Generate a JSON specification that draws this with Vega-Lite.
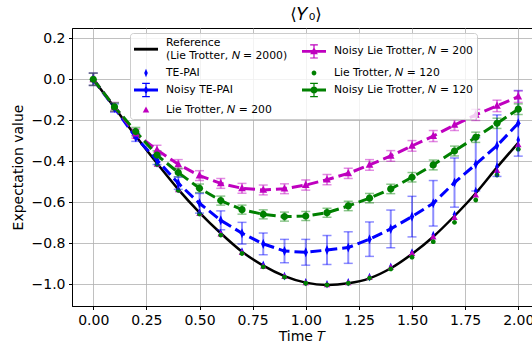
{
  "$schema": "https://vega.github.io/schema/vega-lite/v6.json",
  "width": 460,
  "height": 278,
  "autosize": {"type": "none"},
  "padding": {"left": 72, "top": 28, "right": 0, "bottom": 38},
  "title": {"text": "⟨𝑌₀⟩", "fontSize": 16.5, "font": "DejaVu Sans", "fontWeight": "normal", "anchor": "middle", "dx": 4, "offset": 5, "color": "black"},
  "config": {
    "font": "DejaVu Sans",
    "view": {"stroke": "black", "strokeWidth": 1},
    "axis": {
      "domainColor": "black", "domainWidth": 1, "tickColor": "black", "tickSize": 3.5, "tickWidth": 1,
      "labelFont": "DejaVu Sans", "labelFontSize": 14, "labelColor": "black", "labelPadding": 3.5,
      "titleFont": "DejaVu Sans", "titleFontSize": 14, "titleFontWeight": "normal", "titleColor": "black",
      "gridColor": "#b0b0b0", "gridWidth": 0.8, "gridOpacity": 1
    },
    "legend": {
      "labelFont": "DejaVu Sans", "labelFontSize": 10.8, "labelColor": "black", "labelLimit": 0,
      "fillColor": "rgba(255,255,255,0.8)", "strokeColor": "#cccccc", "cornerRadius": 3, "padding": 4,
      "rowPadding": -3.5, "columnPadding": 14, "labelOffset": 8, "symbolStrokeWidth": 0
    }
  },
  "datasets": {
    "ref": [
      {"series": "Reference", "t": 0, "y": 0},
      {"series": "Reference", "t": 0.1, "y": -0.138},
      {"series": "Reference", "t": 0.2, "y": -0.277},
      {"series": "Reference", "t": 0.3, "y": -0.41},
      {"series": "Reference", "t": 0.4, "y": -0.537},
      {"series": "Reference", "t": 0.5, "y": -0.65},
      {"series": "Reference", "t": 0.6, "y": -0.751},
      {"series": "Reference", "t": 0.7, "y": -0.841},
      {"series": "Reference", "t": 0.8, "y": -0.909},
      {"series": "Reference", "t": 0.9, "y": -0.96},
      {"series": "Reference", "t": 1.0, "y": -0.992},
      {"series": "Reference", "t": 1.1, "y": -1.003},
      {"series": "Reference", "t": 1.2, "y": -0.995},
      {"series": "Reference", "t": 1.3, "y": -0.971},
      {"series": "Reference", "t": 1.4, "y": -0.922},
      {"series": "Reference", "t": 1.5, "y": -0.852},
      {"series": "Reference", "t": 1.6, "y": -0.768},
      {"series": "Reference", "t": 1.7, "y": -0.667},
      {"series": "Reference", "t": 1.8, "y": -0.556},
      {"series": "Reference", "t": 1.9, "y": -0.43},
      {"series": "Reference", "t": 2.0, "y": -0.31}
    ],
    "exact": [
      {"series": "TE-PAI", "t": 0, "y": 0},
      {"series": "TE-PAI", "t": 0.1, "y": -0.14},
      {"series": "TE-PAI", "t": 0.2, "y": -0.28},
      {"series": "TE-PAI", "t": 0.3, "y": -0.41},
      {"series": "TE-PAI", "t": 0.4, "y": -0.535},
      {"series": "TE-PAI", "t": 0.5, "y": -0.65},
      {"series": "TE-PAI", "t": 0.6, "y": -0.75},
      {"series": "TE-PAI", "t": 0.7, "y": -0.84},
      {"series": "TE-PAI", "t": 0.8, "y": -0.905},
      {"series": "TE-PAI", "t": 0.9, "y": -0.96},
      {"series": "TE-PAI", "t": 1.0, "y": -0.99},
      {"series": "TE-PAI", "t": 1.1, "y": -1.0},
      {"series": "TE-PAI", "t": 1.2, "y": -0.99},
      {"series": "TE-PAI", "t": 1.3, "y": -0.965},
      {"series": "TE-PAI", "t": 1.4, "y": -0.915},
      {"series": "TE-PAI", "t": 1.5, "y": -0.845},
      {"series": "TE-PAI", "t": 1.6, "y": -0.76},
      {"series": "TE-PAI", "t": 1.7, "y": -0.66},
      {"series": "TE-PAI", "t": 1.8, "y": -0.545},
      {"series": "TE-PAI", "t": 1.9, "y": -0.425},
      {"series": "TE-PAI", "t": 2.0, "y": -0.296},
      {"series": "Lie Trotter, 𝑁 = 200", "t": 0, "y": 0},
      {"series": "Lie Trotter, 𝑁 = 200", "t": 0.1, "y": -0.14},
      {"series": "Lie Trotter, 𝑁 = 200", "t": 0.2, "y": -0.28},
      {"series": "Lie Trotter, 𝑁 = 200", "t": 0.3, "y": -0.415},
      {"series": "Lie Trotter, 𝑁 = 200", "t": 0.4, "y": -0.54},
      {"series": "Lie Trotter, 𝑁 = 200", "t": 0.5, "y": -0.655},
      {"series": "Lie Trotter, 𝑁 = 200", "t": 0.6, "y": -0.755},
      {"series": "Lie Trotter, 𝑁 = 200", "t": 0.7, "y": -0.845},
      {"series": "Lie Trotter, 𝑁 = 200", "t": 0.8, "y": -0.912},
      {"series": "Lie Trotter, 𝑁 = 200", "t": 0.9, "y": -0.963},
      {"series": "Lie Trotter, 𝑁 = 200", "t": 1.0, "y": -0.993},
      {"series": "Lie Trotter, 𝑁 = 200", "t": 1.1, "y": -1.003},
      {"series": "Lie Trotter, 𝑁 = 200", "t": 1.2, "y": -0.993},
      {"series": "Lie Trotter, 𝑁 = 200", "t": 1.3, "y": -0.967},
      {"series": "Lie Trotter, 𝑁 = 200", "t": 1.4, "y": -0.918},
      {"series": "Lie Trotter, 𝑁 = 200", "t": 1.5, "y": -0.85},
      {"series": "Lie Trotter, 𝑁 = 200", "t": 1.6, "y": -0.77},
      {"series": "Lie Trotter, 𝑁 = 200", "t": 1.7, "y": -0.675},
      {"series": "Lie Trotter, 𝑁 = 200", "t": 1.8, "y": -0.565},
      {"series": "Lie Trotter, 𝑁 = 200", "t": 1.9, "y": -0.445},
      {"series": "Lie Trotter, 𝑁 = 200", "t": 2.0, "y": -0.32},
      {"series": "Lie Trotter, 𝑁 = 120", "t": 0, "y": 0},
      {"series": "Lie Trotter, 𝑁 = 120", "t": 0.1, "y": -0.14},
      {"series": "Lie Trotter, 𝑁 = 120", "t": 0.2, "y": -0.28},
      {"series": "Lie Trotter, 𝑁 = 120", "t": 0.3, "y": -0.415},
      {"series": "Lie Trotter, 𝑁 = 120", "t": 0.4, "y": -0.542},
      {"series": "Lie Trotter, 𝑁 = 120", "t": 0.5, "y": -0.657},
      {"series": "Lie Trotter, 𝑁 = 120", "t": 0.6, "y": -0.76},
      {"series": "Lie Trotter, 𝑁 = 120", "t": 0.7, "y": -0.85},
      {"series": "Lie Trotter, 𝑁 = 120", "t": 0.8, "y": -0.915},
      {"series": "Lie Trotter, 𝑁 = 120", "t": 0.9, "y": -0.965},
      {"series": "Lie Trotter, 𝑁 = 120", "t": 1.0, "y": -0.995},
      {"series": "Lie Trotter, 𝑁 = 120", "t": 1.1, "y": -1.003},
      {"series": "Lie Trotter, 𝑁 = 120", "t": 1.2, "y": -0.995},
      {"series": "Lie Trotter, 𝑁 = 120", "t": 1.3, "y": -0.97},
      {"series": "Lie Trotter, 𝑁 = 120", "t": 1.4, "y": -0.925},
      {"series": "Lie Trotter, 𝑁 = 120", "t": 1.5, "y": -0.868},
      {"series": "Lie Trotter, 𝑁 = 120", "t": 1.6, "y": -0.792},
      {"series": "Lie Trotter, 𝑁 = 120", "t": 1.7, "y": -0.698},
      {"series": "Lie Trotter, 𝑁 = 120", "t": 1.8, "y": -0.589},
      {"series": "Lie Trotter, 𝑁 = 120", "t": 1.9, "y": -0.467},
      {"series": "Lie Trotter, 𝑁 = 120", "t": 2.0, "y": -0.341}
    ],
    "noisy": [
      {"series": "Noisy TE-PAI", "t": 0, "y": 0, "lo": -0.03, "hi": 0.03},
      {"series": "Noisy TE-PAI", "t": 0.1, "y": -0.14, "lo": -0.16, "hi": -0.12},
      {"series": "Noisy TE-PAI", "t": 0.2, "y": -0.283, "lo": -0.303, "hi": -0.263},
      {"series": "Noisy TE-PAI", "t": 0.3, "y": -0.394, "lo": -0.416, "hi": -0.372},
      {"series": "Noisy TE-PAI", "t": 0.4, "y": -0.507, "lo": -0.537, "hi": -0.477},
      {"series": "Noisy TE-PAI", "t": 0.5, "y": -0.605, "lo": -0.653, "hi": -0.557},
      {"series": "Noisy TE-PAI", "t": 0.6, "y": -0.688, "lo": -0.734, "hi": -0.642},
      {"series": "Noisy TE-PAI", "t": 0.7, "y": -0.751, "lo": -0.804, "hi": -0.698},
      {"series": "Noisy TE-PAI", "t": 0.8, "y": -0.803, "lo": -0.856, "hi": -0.75},
      {"series": "Noisy TE-PAI", "t": 0.9, "y": -0.838, "lo": -0.895, "hi": -0.781},
      {"series": "Noisy TE-PAI", "t": 1.0, "y": -0.844, "lo": -0.907, "hi": -0.781},
      {"series": "Noisy TE-PAI", "t": 1.1, "y": -0.833, "lo": -0.904, "hi": -0.762},
      {"series": "Noisy TE-PAI", "t": 1.2, "y": -0.821, "lo": -0.898, "hi": -0.744},
      {"series": "Noisy TE-PAI", "t": 1.3, "y": -0.78, "lo": -0.864, "hi": -0.696},
      {"series": "Noisy TE-PAI", "t": 1.4, "y": -0.73, "lo": -0.822, "hi": -0.638},
      {"series": "Noisy TE-PAI", "t": 1.5, "y": -0.67, "lo": -0.769, "hi": -0.571},
      {"series": "Noisy TE-PAI", "t": 1.6, "y": -0.605, "lo": -0.716, "hi": -0.494},
      {"series": "Noisy TE-PAI", "t": 1.7, "y": -0.504, "lo": -0.624, "hi": -0.384},
      {"series": "Noisy TE-PAI", "t": 1.8, "y": -0.415, "lo": -0.545, "hi": -0.285},
      {"series": "Noisy TE-PAI", "t": 1.9, "y": -0.324, "lo": -0.474, "hi": -0.174},
      {"series": "Noisy TE-PAI", "t": 2.0, "y": -0.215, "lo": -0.375, "hi": -0.055},
      {"series": "Noisy Lie Trotter, 𝑁 = 200", "t": 0, "y": 0, "lo": -0.03, "hi": 0.03},
      {"series": "Noisy Lie Trotter, 𝑁 = 200", "t": 0.1, "y": -0.135, "lo": -0.157, "hi": -0.113},
      {"series": "Noisy Lie Trotter, 𝑁 = 200", "t": 0.2, "y": -0.265, "lo": -0.287, "hi": -0.243},
      {"series": "Noisy Lie Trotter, 𝑁 = 200", "t": 0.3, "y": -0.345, "lo": -0.368, "hi": -0.322},
      {"series": "Noisy Lie Trotter, 𝑁 = 200", "t": 0.4, "y": -0.415, "lo": -0.438, "hi": -0.392},
      {"series": "Noisy Lie Trotter, 𝑁 = 200", "t": 0.5, "y": -0.47, "lo": -0.494, "hi": -0.446},
      {"series": "Noisy Lie Trotter, 𝑁 = 200", "t": 0.6, "y": -0.508, "lo": -0.532, "hi": -0.484},
      {"series": "Noisy Lie Trotter, 𝑁 = 200", "t": 0.7, "y": -0.532, "lo": -0.556, "hi": -0.508},
      {"series": "Noisy Lie Trotter, 𝑁 = 200", "t": 0.8, "y": -0.54, "lo": -0.564, "hi": -0.516},
      {"series": "Noisy Lie Trotter, 𝑁 = 200", "t": 0.9, "y": -0.534, "lo": -0.558, "hi": -0.51},
      {"series": "Noisy Lie Trotter, 𝑁 = 200", "t": 1.0, "y": -0.516, "lo": -0.541, "hi": -0.491},
      {"series": "Noisy Lie Trotter, 𝑁 = 200", "t": 1.1, "y": -0.49, "lo": -0.515, "hi": -0.465},
      {"series": "Noisy Lie Trotter, 𝑁 = 200", "t": 1.2, "y": -0.459, "lo": -0.484, "hi": -0.434},
      {"series": "Noisy Lie Trotter, 𝑁 = 200", "t": 1.3, "y": -0.418, "lo": -0.444, "hi": -0.392},
      {"series": "Noisy Lie Trotter, 𝑁 = 200", "t": 1.4, "y": -0.374, "lo": -0.4, "hi": -0.348},
      {"series": "Noisy Lie Trotter, 𝑁 = 200", "t": 1.5, "y": -0.325, "lo": -0.351, "hi": -0.299},
      {"series": "Noisy Lie Trotter, 𝑁 = 200", "t": 1.6, "y": -0.277, "lo": -0.304, "hi": -0.25},
      {"series": "Noisy Lie Trotter, 𝑁 = 200", "t": 1.7, "y": -0.223, "lo": -0.25, "hi": -0.196},
      {"series": "Noisy Lie Trotter, 𝑁 = 200", "t": 1.8, "y": -0.174, "lo": -0.201, "hi": -0.147},
      {"series": "Noisy Lie Trotter, 𝑁 = 200", "t": 1.9, "y": -0.13, "lo": -0.158, "hi": -0.102},
      {"series": "Noisy Lie Trotter, 𝑁 = 200", "t": 2.0, "y": -0.085, "lo": -0.113, "hi": -0.057},
      {"series": "Noisy Lie Trotter, 𝑁 = 120", "t": 0, "y": 0, "lo": -0.03, "hi": 0.03},
      {"series": "Noisy Lie Trotter, 𝑁 = 120", "t": 0.1, "y": -0.135, "lo": -0.155, "hi": -0.115},
      {"series": "Noisy Lie Trotter, 𝑁 = 120", "t": 0.2, "y": -0.255, "lo": -0.275, "hi": -0.235},
      {"series": "Noisy Lie Trotter, 𝑁 = 120", "t": 0.3, "y": -0.37, "lo": -0.391, "hi": -0.349},
      {"series": "Noisy Lie Trotter, 𝑁 = 120", "t": 0.4, "y": -0.455, "lo": -0.476, "hi": -0.434},
      {"series": "Noisy Lie Trotter, 𝑁 = 120", "t": 0.5, "y": -0.532, "lo": -0.553, "hi": -0.511},
      {"series": "Noisy Lie Trotter, 𝑁 = 120", "t": 0.6, "y": -0.592, "lo": -0.614, "hi": -0.57},
      {"series": "Noisy Lie Trotter, 𝑁 = 120", "t": 0.7, "y": -0.636, "lo": -0.658, "hi": -0.614},
      {"series": "Noisy Lie Trotter, 𝑁 = 120", "t": 0.8, "y": -0.659, "lo": -0.681, "hi": -0.637},
      {"series": "Noisy Lie Trotter, 𝑁 = 120", "t": 0.9, "y": -0.67, "lo": -0.692, "hi": -0.648},
      {"series": "Noisy Lie Trotter, 𝑁 = 120", "t": 1.0, "y": -0.667, "lo": -0.689, "hi": -0.645},
      {"series": "Noisy Lie Trotter, 𝑁 = 120", "t": 1.1, "y": -0.651, "lo": -0.673, "hi": -0.629},
      {"series": "Noisy Lie Trotter, 𝑁 = 120", "t": 1.2, "y": -0.618, "lo": -0.641, "hi": -0.595},
      {"series": "Noisy Lie Trotter, 𝑁 = 120", "t": 1.3, "y": -0.58, "lo": -0.603, "hi": -0.557},
      {"series": "Noisy Lie Trotter, 𝑁 = 120", "t": 1.4, "y": -0.535, "lo": -0.558, "hi": -0.512},
      {"series": "Noisy Lie Trotter, 𝑁 = 120", "t": 1.5, "y": -0.478, "lo": -0.501, "hi": -0.455},
      {"series": "Noisy Lie Trotter, 𝑁 = 120", "t": 1.6, "y": -0.418, "lo": -0.442, "hi": -0.394},
      {"series": "Noisy Lie Trotter, 𝑁 = 120", "t": 1.7, "y": -0.35, "lo": -0.374, "hi": -0.326},
      {"series": "Noisy Lie Trotter, 𝑁 = 120", "t": 1.8, "y": -0.283, "lo": -0.308, "hi": -0.258},
      {"series": "Noisy Lie Trotter, 𝑁 = 120", "t": 1.9, "y": -0.215, "lo": -0.24, "hi": -0.19},
      {"series": "Noisy Lie Trotter, 𝑁 = 120", "t": 2.0, "y": -0.146, "lo": -0.172, "hi": -0.12}
    ]
  },
  "encoding": {
    "x": {
      "field": "t", "type": "quantitative", "title": "Time 𝑇",
      "scale": {"domain": [-0.1, 2.0647], "nice": false, "zero": false},
      "axis": {"values": [0, 0.25, 0.5, 0.75, 1.0, 1.25, 1.5, 1.75, 2.0], "format": ".2f", "grid": true, "titlePadding": 2}
    },
    "y": {
      "field": "y", "type": "quantitative", "title": "Expectation value",
      "scale": {"domain": [-1.106, 0.25], "nice": false, "zero": false},
      "axis": {"values": [-1.0, -0.8, -0.6, -0.4, -0.2, 0.0, 0.2], "format": ".1f", "grid": true, "titlePadding": 6}
    },
    "color": {
      "field": "series", "type": "nominal",
      "scale": {
        "domain": ["Reference", "TE-PAI", "Noisy TE-PAI", "Lie Trotter, 𝑁 = 200", "Noisy Lie Trotter, 𝑁 = 200", "Lie Trotter, 𝑁 = 120", "Noisy Lie Trotter, 𝑁 = 120"],
        "range": ["#000000", "#0000ff", "#0000ff", "#bf00bf", "#bf00bf", "#008000", "#008000"]
      },
      "legend": {
        "title": null, "orient": "none", "legendX": 58, "legendY": 5, "columns": 2, "symbolSize": 576,
        "labelExpr": "datum.value == 'Reference' ? ['Reference', '(Lie Trotter, 𝑁 = 2000)'] : datum.label",
        "encode": {
          "symbols": {"update": {"fill": {"scale": "color", "field": "value"}, "stroke": {"value": "transparent"}, "strokeWidth": {"value": 0}, "opacity": {"value": 1}, "size": {"value": 576}}},
          "labels": {"update": {"dy": {"signal": "datum.value == 'Reference' ? -6 : 0"}}}
        }
      }
    }
  },
  "layer": [
    {
      "data": {"name": "ref"},
      "mark": {"type": "line", "strokeWidth": 2.5, "interpolate": "monotone"}
    },
    {
      "data": {"name": "exact"},
      "mark": {"type": "point", "filled": true, "size": 576, "opacity": 1, "strokeWidth": 0},
      "encoding": {
        "shape": {
          "field": "series", "type": "nominal",
          "scale": {
            "domain": ["Reference", "TE-PAI", "Noisy TE-PAI", "Lie Trotter, 𝑁 = 200", "Noisy Lie Trotter, 𝑁 = 200", "Lie Trotter, 𝑁 = 120", "Noisy Lie Trotter, 𝑁 = 120"],
            "range": [
              "M-1,-0.12H1V0.12H-1Z",
              "M0,-0.36L0.15,0L0,0.36L-0.15,0Z",
              "M-1,-0.12H1V0.12H-1Z M-0.05,-0.55H0.05V0.55H-0.05Z M-0.32,-0.6H0.32V-0.5H-0.32Z M-0.32,0.5H0.32V0.6H-0.32Z M0,-0.42L0.18,0L0,0.42L-0.18,0Z",
              "M0,-0.3L0.27,0.2L-0.27,0.2Z",
              "M-1,-0.12H1V0.12H-1Z M-0.05,-0.55H0.05V0.55H-0.05Z M-0.32,-0.6H0.32V-0.5H-0.32Z M-0.32,0.5H0.32V0.6H-0.32Z M0,-0.36L0.32,0.24L-0.32,0.24Z",
              "M0.2,0A0.2,0.2 0 1,1 -0.2,0A0.2,0.2 0 1,1 0.2,0Z",
              "M-1,-0.12H1V0.12H-1Z M-0.05,-0.55H0.05V0.55H-0.05Z M-0.32,-0.6H0.32V-0.5H-0.32Z M-0.32,0.5H0.32V0.6H-0.32Z M0.3,0A0.3,0.3 0 1,1 -0.3,0A0.3,0.3 0 1,1 0.3,0Z"
            ]
          },
          "legend": {
            "title": null, "orient": "none", "legendX": 58, "legendY": 5, "columns": 2, "symbolSize": 576,
            "labelExpr": "datum.value == 'Reference' ? ['Reference', '(Lie Trotter, 𝑁 = 2000)'] : datum.label"
          }
        }
      }
    },
    {
      "data": {"name": "noisy"},
      "mark": {"type": "rule", "strokeWidth": 2, "opacity": 0.45},
      "encoding": {
        "y": {"field": "lo", "type": "quantitative", "title": "Expectation value"},
        "y2": {"field": "hi"}
      }
    },
    {
      "data": {"name": "noisy"},
      "mark": {"type": "tick", "orient": "horizontal", "size": 9, "thickness": 1.5, "opacity": 0.45},
      "encoding": {
        "y": {"field": "lo", "type": "quantitative", "title": "Expectation value"}
      }
    },
    {
      "data": {"name": "noisy"},
      "mark": {"type": "tick", "orient": "horizontal", "size": 9, "thickness": 1.5, "opacity": 0.45},
      "encoding": {
        "y": {"field": "hi", "type": "quantitative", "title": "Expectation value"}
      }
    },
    {
      "data": {"name": "noisy"},
      "mark": {"type": "line", "strokeWidth": 3, "strokeDash": [11, 5]}
    },
    {
      "data": {"name": "noisy"},
      "transform": [{"filter": "datum.series == 'Noisy TE-PAI'"}],
      "mark": {"type": "point", "filled": true, "size": 576, "opacity": 1, "strokeWidth": 0, "shape": "M0,-0.42L0.18,0L0,0.42L-0.18,0Z"}
    },
    {
      "data": {"name": "noisy"},
      "transform": [{"filter": "datum.series == 'Noisy Lie Trotter, 𝑁 = 200'"}],
      "mark": {"type": "point", "filled": true, "size": 576, "opacity": 1, "strokeWidth": 0, "shape": "M0,-0.36L0.32,0.24L-0.32,0.24Z"}
    },
    {
      "data": {"name": "noisy"},
      "transform": [{"filter": "datum.series == 'Noisy Lie Trotter, 𝑁 = 120'"}],
      "mark": {"type": "point", "filled": true, "size": 576, "opacity": 1, "strokeWidth": 0, "shape": "M0.3,0A0.3,0.3 0 1,1 -0.3,0A0.3,0.3 0 1,1 0.3,0Z"}
    }
  ]
}
